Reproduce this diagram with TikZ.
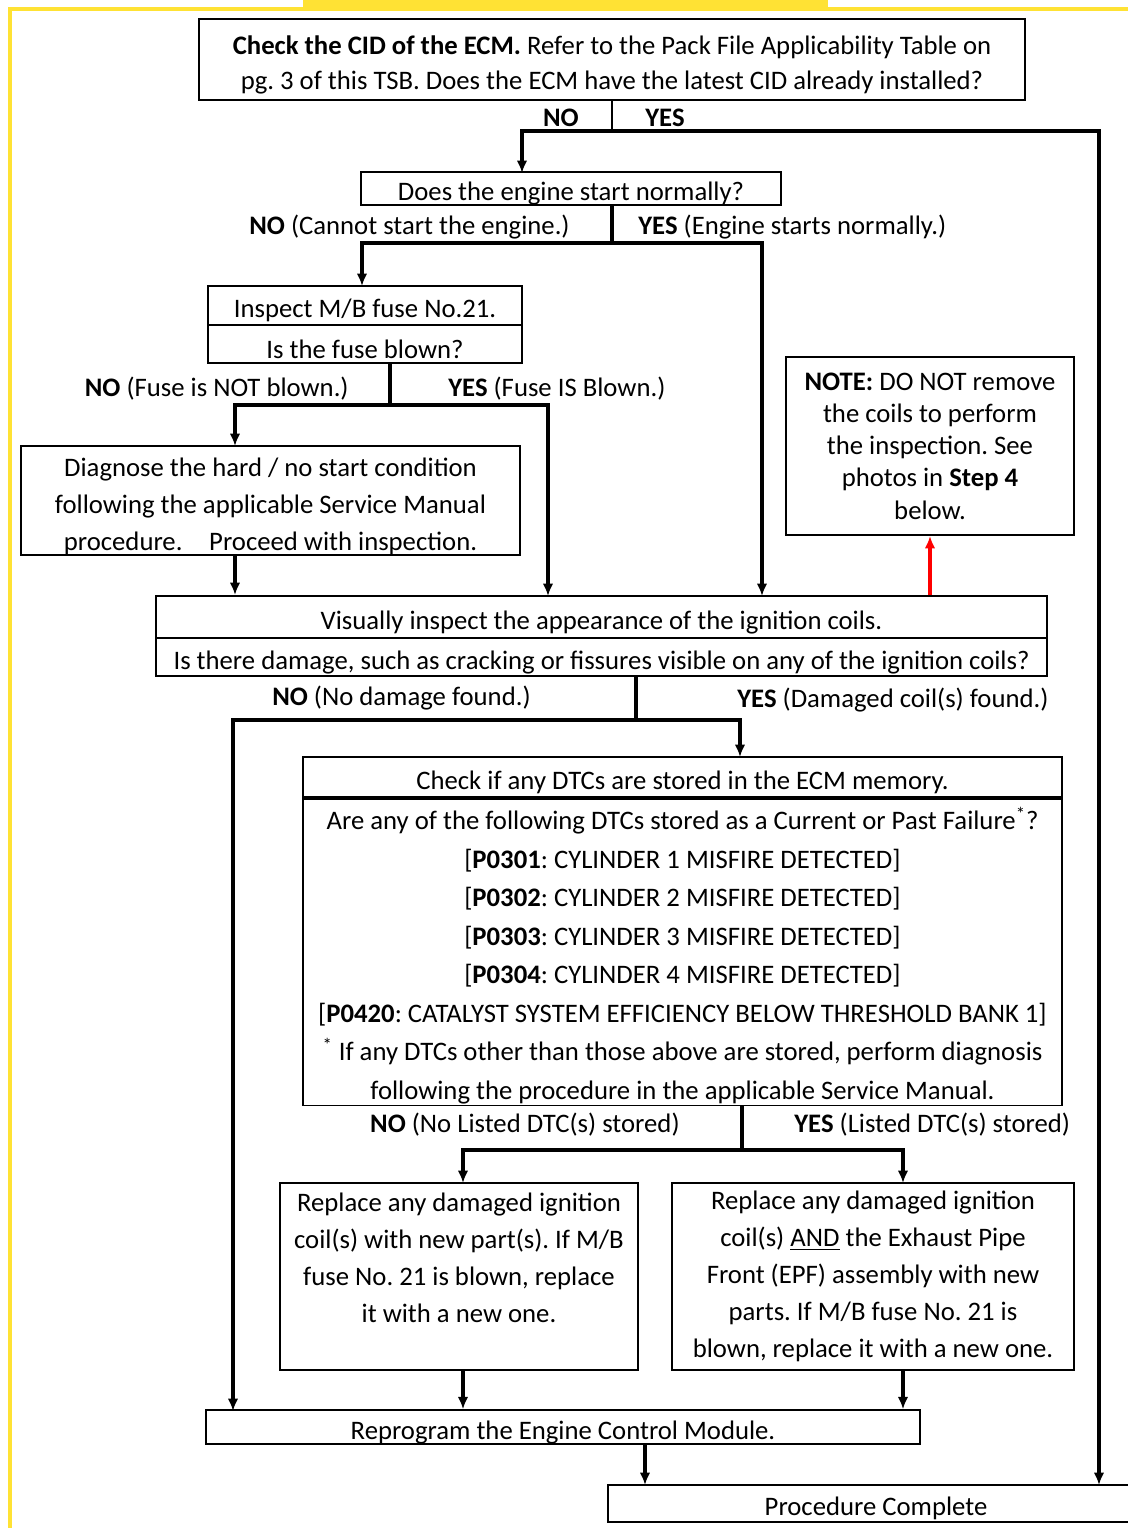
\documentclass[tikz,border=0pt]{standalone}
\usepackage{fontspec}
\setmainfont{Carlito}
\usetikzlibrary{arrows.meta}
\definecolor{hilite}{HTML}{FFE234}
\frenchspacing
\newcommand\lowerline{\rule{0pt}{17pt}}

\begin{document}
\begin{tikzpicture}[x=0.02cm,y=-0.02cm,
  box/.style={draw,line width=1.1pt,inner sep=0pt,align=center,font=\fontsize{15.2}{20}\selectfont},
  sink/.style={execute at begin node={\rule{0pt}{16.5pt}}},
  link/.style={draw,line width=1.8pt,-{Latex[length=7pt,width=6pt]}},
  stem/.style={draw,line width=1.8pt},
  lbl/.style={inner sep=0pt,font=\fontsize{15.2}{18}\selectfont}]
\useasboundingbox (0,0) rectangle (1128,1528);

% page frame and title bar
\fill[hilite] (303,0) rectangle (828,7);
\draw[hilite,line width=2.5pt] (10,1528) -- (10,9) -- (1128,9);

% boxes
\node[box,minimum width=16.52cm,minimum height=1.62cm] (cid) at (612,59.5)
  {\lowerline\textbf{Check the CID of the ECM.} Refer to the Pack File Applicability Table on\\
   pg. 3 of this TSB. Does the ECM have the latest CID already installed?};
\node[box,sink,minimum width=8.4cm,minimum height=0.62cm] (start) at (571,188.5) {Does the engine start normally?};
\node[box,sink,minimum width=6.28cm,minimum height=0.78cm] (fuse) at (365,305.5) {Inspect M/B fuse No.21.};
\node[box,sink,minimum width=6.28cm,minimum height=0.76cm] (blown) at (365,344) {Is the fuse blown?};
\node[box,minimum width=9.98cm,minimum height=2.18cm,font=\fontsize{15.2}{21}\selectfont] (diag) at (270.5,500.5)
  {\lowerline Diagnose the hard / no start condition\\ following the applicable Service Manual\\ procedure.\quad Proceed with inspection.};
\node[box,minimum width=5.76cm,minimum height=3.56cm,font=\fontsize{15.2}{18.4}\selectfont] (note) at (930,446)
  {\textbf{NOTE:} DO NOT remove\\ the coils to perform\\ the inspection. See\\ photos in \textbf{Step 4}\\ below.};
\node[box,sink,minimum width=17.82cm,minimum height=0.84cm] (look) at (601.5,617) {Visually inspect the appearance of the ignition coils.};
\node[box,sink,minimum width=17.82cm,minimum height=0.76cm] (crack) at (601.5,657) {Is there damage, such as cracking or fissures visible on any of the ignition coils?};
\node[box,sink,minimum width=15.18cm,minimum height=0.8cm] (dtc) at (682.5,777) {Check if any DTCs are stored in the ECM memory.};
\node[box,minimum width=15.18cm,minimum height=6.14cm,font=\fontsize{15.2}{21.9}\selectfont] (list) at (682.5,952)
  {\lowerline Are any of the following DTCs stored as a Current or Past Failure\textsuperscript{*}?\\
   {[}\textbf{P0301}: CYLINDER 1 MISFIRE DETECTED{]}\\
   {[}\textbf{P0302}: CYLINDER 2 MISFIRE DETECTED{]}\\
   {[}\textbf{P0303}: CYLINDER 3 MISFIRE DETECTED{]}\\
   {[}\textbf{P0304}: CYLINDER 4 MISFIRE DETECTED{]}\\
   {[}\textbf{P0420}: CATALYST SYSTEM EFFICIENCY BELOW THRESHOLD BANK 1{]}\\
   \textsuperscript{*} If any DTCs other than those above are stored, perform diagnosis\\
   following the procedure in the applicable Service Manual.};
\node[box,minimum width=7.16cm,minimum height=3.74cm,font=\fontsize{15.2}{21}\selectfont] (coil) at (459,1276.5)
  {Replace any damaged ignition\\ coil(s) with new part(s). If M/B\\ fuse No. 21 is blown, replace\\ it with a new one.\\ \mbox{}};
\node[box,minimum width=8.04cm,minimum height=3.74cm,font=\fontsize{15.2}{21}\selectfont] (epf) at (873,1276.5)
  {Replace any damaged ignition\\ coil(s) \underline{AND} the Exhaust Pipe\\ Front (EPF) assembly with new\\ parts. If M/B fuse No. 21 is\\ blown, replace it with a new one.};
\node[box,sink,minimum width=14.28cm,minimum height=0.64cm] (ecm) at (563,1427) {Reprogram the Engine Control Module.};
\node[box,sink,minimum width=10.72cm,minimum height=0.74cm] (done) at (876,1503.5) {Procedure Complete};

% branch points and arrow ends
\coordinate (j1) at (612,131);
\coordinate (j2) at (612,243);
\coordinate (j3) at (390,405);
\coordinate (j4) at (636,720);
\coordinate (j5) at (742,1150);
\coordinate (t1) at (522,173);
\coordinate (t2) at (362,286);
\coordinate (t3) at (762,596);
\coordinate (t4) at (235,446);
\coordinate (t5) at (548,596);
\coordinate (t6) at (740,757);
\coordinate (t7) at (233,1411);
\coordinate (t8) at (463,1183);
\coordinate (t9) at (903,1183);
\coordinate (t10) at (1099,1485);
\coordinate (t11) at (645,1485);

% connectors
\path[draw,line width=1pt] (j1 |- cid.south) -- (j1);
\path[link] (j1) -| (t1);
\path[link] (j1) -| (t10);
\path[stem] (j2 |- start.south) -- (j2);
\path[link] (j2) -| (t2);
\path[link] (j2) -| (t3);
\path[stem] (j3 |- blown.south) -- (j3);
\path[link] (j3) -| (t4);
\path[link] (j3) -| (t5);
\path[link] (t4 |- diag.south) -- (t4 |- look.north);
\path[draw=red,line width=1.8pt,-{Latex[length=7pt,width=6pt]}] (note.south |- look.north) -- (note.south);
\path[stem] (j4 |- crack.south) -- (j4);
\path[link] (j4) -| (t6);
\path[link] (j4) -| (t7);
\path[stem] (j5 |- list.south) -- (j5);
\path[link] (j5) -| (t8);
\path[link] (j5) -| (t9);
\path[link] (t8 |- coil.south) -- (t8 |- ecm.north);
\path[link] (t9 |- epf.south) -- (t9 |- ecm.north);
\path[link] (t11 |- ecm.south) -- (t11);

% answers
\node[lbl,anchor=east] (no1) at (579,118) {\textbf{NO}};
\node[lbl,anchor=west] (yes1) at (645,118) {\textbf{YES}};
\node[lbl,anchor=east] (no2) at (570,227) {\textbf{NO} (Cannot start the engine.)};
\node[lbl,anchor=west] (yes2) at (638,227) {\textbf{YES} (Engine starts normally.)};
\node[lbl,anchor=east] (no3) at (349,389) {\textbf{NO} (Fuse is NOT blown.)};
\node[lbl,anchor=west] (yes3) at (448,389) {\textbf{YES} (Fuse IS Blown.)};
\node[lbl,anchor=east] (no4) at (531,698) {\textbf{NO} (No damage found.)};
\node[lbl,anchor=west] (yes4) at (737,700) {\textbf{YES} (Damaged coil(s) found.)};
\node[lbl,anchor=east] (no5) at (680,1125) {\textbf{NO} (No Listed DTC(s) stored)};
\node[lbl,anchor=west] (yes5) at (794,1125) {\textbf{YES} (Listed DTC(s) stored)};
\end{tikzpicture}
\end{document}
